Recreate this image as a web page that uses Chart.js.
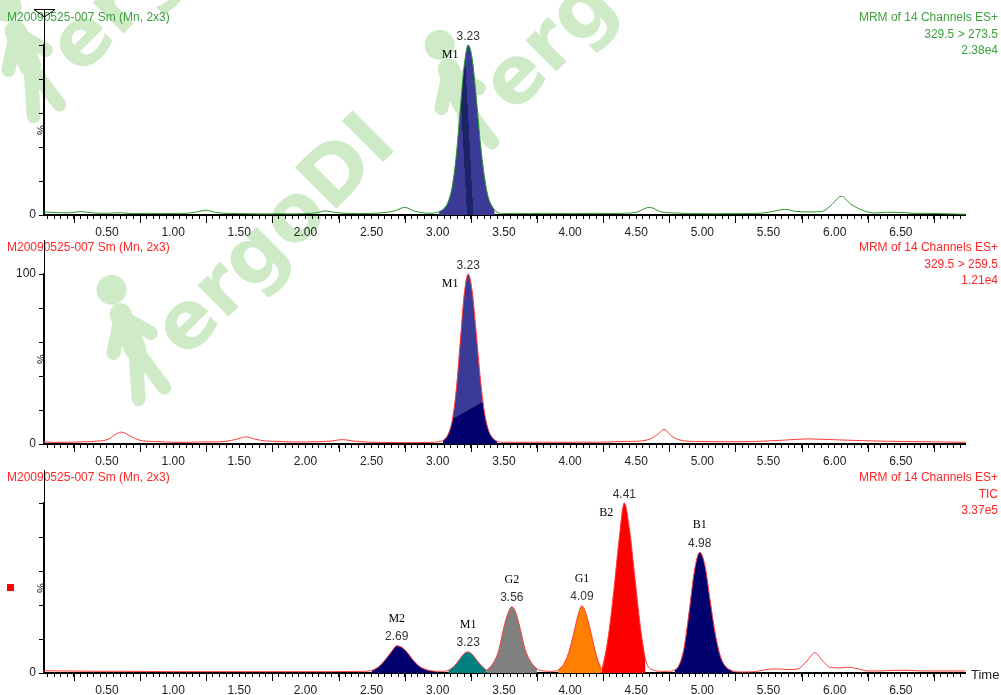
<!DOCTYPE html>
<html lang="en">
<head>
<meta charset="UTF-8">
<title>MRM chromatograms</title>
<script src="https://cdn.jsdelivr.net/npm/chart.js"></script>
<style>
  body { margin: 0; background: #fff; overflow: hidden; }
  .panel { position: absolute; left: 0; width: 1001px; }
</style>
</head>
<body>
<div class="panel" style="top:0;height:240px"><canvas id="c1"></canvas></div>
<div class="panel" style="top:240px;height:230px"><canvas id="c2"></canvas></div>
<div class="panel" style="top:470px;height:225px"><canvas id="c3"></canvas></div>
<script>
// ---- values (time in min, intensity in %) ----
const sampleName = 'M20090525-007 Sm (Mn, 2x3)';
const ch1Header = ['MRM of 14 Channels ES+', '329.5 > 273.5', '2.38e4'];
const ch2Header = ['MRM of 14 Channels ES+', '329.5 > 259.5', '1.21e4'];
const ticHeader = ['MRM of 14 Channels ES+', 'TIC', '3.37e5'];
const xTickLabels = ['0.50', '1.00', '1.50', '2.00', '2.50', '3.00', '3.50', '4.00', '4.50', '5.00', '5.50', '6.00', '6.50'];

const ch1Time = [0.02, 0.10, 0.20, 0.30, 0.40, 0.50, 0.60, 0.70, 0.80, 0.90,
  1.00, 1.10, 1.18, 1.25, 1.32, 1.40, 1.50, 1.60, 1.70, 1.80, 1.90,
  2.00, 2.08, 2.15, 2.22, 2.30, 2.40, 2.50, 2.60, 2.68, 2.75, 2.82, 2.90, 2.95,
  3.01, 3.05, 3.08, 3.11, 3.14, 3.17, 3.20, 3.23, 3.26, 3.29, 3.32, 3.35, 3.38, 3.43, 3.50, 3.60, 3.70, 3.80, 3.90,
  4.00, 4.10, 4.20, 4.30, 4.40, 4.50, 4.60, 4.70, 4.80, 4.90,
  5.00, 5.10, 5.20, 5.30, 5.40, 5.50, 5.56, 5.63, 5.70, 5.80, 5.90, 5.97,
  6.05, 6.12, 6.18, 6.25, 6.30, 6.40, 6.50, 6.60, 6.70, 6.80, 6.90, 6.99];
const ch1Pct = [1.8, 1.5, 1.2, 2.0, 1.2, 1.0, 1.3, 0.8, 1.0, 0.8,
  0.9, 1.0, 1.8, 2.8, 1.5, 1.0, 0.8, 0.7, 0.6, 0.7, 0.6,
  0.8, 1.2, 2.4, 1.5, 1.0, 0.8, 1.0, 1.4, 2.6, 4.5, 2.4, 1.2, 1.0,
  2.0, 4.0, 8.0, 17, 35, 62, 88, 100, 92, 70, 44, 24, 11, 3.0, 0.8, 1.0, 0.8, 1.0, 0.9,
  0.8, 0.9, 1.0, 0.9, 1.0, 1.6, 4.5, 1.6, 1.2, 0.8,
  0.8, 0.7, 0.8, 0.8, 0.9, 1.6, 2.6, 3.3, 2.2, 1.8, 2.0, 5.5,
  11, 6.5, 3.8, 1.8, 1.2, 1.6, 1.5, 1.0, 1.0, 0.8, 0.6, 0.4];
const ch1PeakNames = ['M1'];
const ch1PeakRT = ['3.23'];
const ch1PeakStart = [3.01];
const ch1PeakEnd = [3.43];

const ch2Time = [0.02, 0.10, 0.20, 0.30, 0.40, 0.50, 0.61, 0.68, 0.75, 0.85,
  0.95, 1.00, 1.10, 1.20, 1.30, 1.40, 1.48, 1.55, 1.62, 1.70,
  1.80, 1.90, 2.00, 2.10, 2.20, 2.28, 2.36, 2.45, 2.55, 2.70,
  2.85, 2.95, 3.04, 3.08, 3.11, 3.14, 3.17, 3.20, 3.23, 3.26,
  3.29, 3.32, 3.35, 3.38, 3.41, 3.45, 3.50, 3.60, 3.70, 3.80,
  3.90, 4.00, 4.10, 4.20, 4.30, 4.40, 4.50, 4.60, 4.66, 4.71,
  4.77, 4.85, 4.95, 5.05, 5.20, 5.40, 5.60, 5.80, 6.00, 6.20,
  6.40, 6.60, 6.80, 6.99];
const ch2Pct = [1.2, 1.0, 1.0, 1.2, 1.6, 2.5, 7.0, 4.5, 2.2, 1.5,
  1.2, 1.0, 1.0, 1.2, 1.2, 1.6, 2.8, 4.2, 2.8, 1.8,
  1.5, 1.2, 1.2, 1.4, 1.8, 2.6, 1.8, 1.2, 1.0, 0.8,
  0.8, 1.0, 2.0, 6.0, 14, 32, 60, 88, 100, 90,
  66, 40, 20, 9.0, 4.0, 1.5, 1.0, 1.0, 1.0, 1.1,
  1.0, 1.0, 1.1, 1.0, 1.2, 1.5, 1.6, 2.8, 5.5, 8.5,
  4.5, 2.0, 1.5, 1.4, 1.3, 1.5, 2.2, 3.0, 2.5, 2.0,
  1.6, 1.4, 1.2, 1.0];
const ch2PeakNames = ['M1'];
const ch2PeakRT = ['3.23'];
const ch2PeakStart = [3.04];
const ch2PeakEnd = [3.45];

const ticTime = [0.02, 0.20, 0.40, 0.60, 0.80, 1.00, 1.30, 1.60, 1.90, 2.20,
  2.40, 2.50, 2.55, 2.60, 2.65, 2.69, 2.73, 2.77, 2.81, 2.86,
  2.92, 2.99, 3.04, 3.08, 3.13, 3.17, 3.20, 3.23, 3.26, 3.30,
  3.34, 3.37, 3.42, 3.46, 3.50, 3.53, 3.56, 3.59, 3.62, 3.66,
  3.70, 3.75, 3.80, 3.86, 3.91, 3.95, 3.99, 4.03, 4.06, 4.09,
  4.12, 4.16, 4.20, 4.24, 4.29, 4.33, 4.37, 4.41, 4.45, 4.49,
  4.53, 4.57, 4.62, 4.70, 4.75, 4.79, 4.82, 4.86, 4.90, 4.94,
  4.98, 5.02, 5.06, 5.10, 5.14, 5.18, 5.23, 5.30, 5.40, 5.48,
  5.56, 5.65, 5.72, 5.79, 5.85, 5.91, 5.97, 6.04, 6.10, 6.18,
  6.25, 6.35, 6.45, 6.55, 6.65, 6.80, 6.99];
const ticPct = [1.3, 1.2, 1.0, 1.0, 0.9, 0.8, 0.8, 0.8, 0.8, 0.8,
  0.9, 1.5, 3.5, 7.5, 12.5, 16, 15, 12, 8.0, 4.0,
  1.8, 1.0, 1.0, 1.5, 4.5, 8.5, 11.5, 12.4, 11, 7.0,
  3.5, 1.8, 6.0, 13, 27, 35, 39, 35.5, 27, 14,
  7.0, 2.5, 1.2, 1.0, 1.8, 5.0, 12, 24, 34, 39.5,
  35, 23, 10, 2.5, 22, 48, 78, 100, 84, 56,
  28, 8.0, 2.0, 1.0, 1.0, 1.8, 4.0, 14, 36, 60,
  71, 63, 42, 22, 9.0, 3.5, 1.2, 0.6, 0.8, 2.0,
  2.4, 2.0, 2.4, 7.0, 12, 7.0, 3.2, 3.0, 3.4, 2.4,
  1.2, 1.2, 1.6, 1.6, 1.2, 1.2, 1.2];
const ticPeakNames = ['M2', 'M1', 'G2', 'G1', 'B2', 'B1'];
const ticPeakRT = ['2.69', '3.23', '3.56', '4.09', '4.41', '4.98'];
const ticPeakStart = [2.50, 3.08, 3.37, 3.91, 4.24, 4.79];
const ticPeakEnd = [2.99, 3.37, 3.75, 4.24, 4.57, 5.23];

// ---- styles ----
const greenLine = '#2a942a', greenText = '#3d9f3d';
const redLine = '#ff3a3a', redText = '#ff2626';
const navy = '#00006f', lightNavy = '#3b3b97', darkStripe = '#1c2468';
const ticFills = [navy, '#008080', '#808080', '#ff8000', '#ff0000', navy];
const wmColor = 'rgb(206,234,199)';

Chart.defaults.font.family = '"Liberation Sans", Arial, sans-serif';
Chart.defaults.font.size = 12;
Chart.defaults.color = '#222';

// hard-edged gradient band across a peak (the watermark shows through it)
function bandFill(c, t, v, dirX, dirY, stops) {
  const ch = c.chart;
  if (!ch.chartArea) return navy;
  const cx = ch.scales.x.getPixelForValue(t), cy = ch.scales.y.getPixelForValue(v);
  const L = Math.hypot(dirX, dirY), nx = -dirY / L, ny = dirX / L;
  const g = ch.ctx.createLinearGradient(cx - nx * 20, cy - ny * 20, cx + nx * 20, cy + ny * 20);
  stops.forEach(([o, col]) => g.addColorStop(o, col));
  return g;
}
const ch1Fill = c => bandFill(c, 3.20, 66, 5, 94,
  [[0, lightNavy], [0.42, lightNavy], [0.42, darkStripe], [0.58, darkStripe], [0.58, lightNavy], [1, lightNavy]]);
const ch2Fill = c => bandFill(c, 3.21, 19, 32, -18,
  [[0, lightNavy], [0.5, lightNavy], [0.5, navy], [1, navy]]);

const panels = [
  { id: 'c1', top: 0, padTop: 45, xH: 25, time: ch1Time, pct: ch1Pct, header: ch1Header,
    line: greenLine, text: greenText, names: ch1PeakNames, rt: ch1PeakRT, start: ch1PeakStart,
    end: ch1PeakEnd, fills: [ch1Fill], yLabels: ['0'], titleY: 18, extTop: 10, triangle: true },
  { id: 'c2', top: 240, padTop: 34, xH: 26, time: ch2Time, pct: ch2Pct, header: ch2Header,
    line: redLine, text: redText, names: ch2PeakNames, rt: ch2PeakRT, start: ch2PeakStart,
    end: ch2PeakEnd, fills: [ch2Fill], yLabels: ['0', '100'], titleY: 8, extTop: 0 },
  { id: 'c3', top: 470, padTop: 33, xH: 22, time: ticTime, pct: ticPct, header: ticHeader,
    line: redLine, text: redText, names: ticPeakNames, rt: ticPeakRT, start: ticPeakStart,
    end: ticPeakEnd, fills: ticFills, yLabels: ['0'], titleY: 8, extTop: 0, tic: true }
];

// ---- watermark (page coordinates, each canvas shows its own slice) ----
const wmCopies = [[150, 395], [478, 150], [45, 112]];
function drawWatermark(ctx) {
  ctx.fillStyle = wmColor;
  ctx.strokeStyle = wmColor;
  ctx.lineCap = 'round';
  ctx.lineJoin = 'round';
  wmCopies.forEach(([px, py]) => {
    ctx.save();
    ctx.translate(px, py);
    ctx.save();
    ctx.rotate(-0.35);
    ctx.beginPath(); ctx.arc(0, -112, 15, 0, Math.PI * 2); ctx.fill();
    ctx.lineWidth = 22;
    ctx.beginPath(); ctx.moveTo(0, -86); ctx.lineTo(2, -48); ctx.stroke();
    ctx.lineWidth = 14;
    ctx.beginPath();
    ctx.moveTo(2, -48); ctx.lineTo(-12, 0);
    ctx.moveTo(2, -48); ctx.lineTo(16, -2);
    ctx.moveTo(0, -84); ctx.lineTo(-20, -52);
    ctx.moveTo(0, -84); ctx.lineTo(22, -58);
    ctx.stroke();
    ctx.restore();
    ctx.rotate(-0.785);
    ctx.font = 'bold 80px "DejaVu Sans"';
    ctx.textBaseline = 'alphabetic';
    ctx.textAlign = 'left';
    ctx.fillText('ergoDI', 50, 0);
    ctx.restore();
  });
}

function makeDeco(p) {
  return {
    id: 'deco' + p.id,
    beforeDraw(chart) {
      const ctx = chart.ctx;
      ctx.save();
      ctx.translate(0, -p.top);
      drawWatermark(ctx);
      ctx.restore();
    },
    afterDraw(chart) {
      const ctx = chart.ctx, area = chart.chartArea;
      const xs = chart.scales.x, ys = chart.scales.y;
      ctx.save();
      // headers
      ctx.font = '12px "Liberation Sans"';
      ctx.fillStyle = p.text;
      ctx.textBaseline = 'middle';
      ctx.textAlign = 'left';
      ctx.fillText(sampleName, 7, p.titleY);
      ctx.textAlign = 'right';
      p.header.forEach((s, i) => ctx.fillText(s, 998, p.titleY + i * 16.5));
      // y axis line running up above the plot
      ctx.strokeStyle = '#000';
      ctx.lineWidth = 1;
      ctx.beginPath();
      ctx.moveTo(area.left + 0.5, p.extTop);
      ctx.lineTo(area.left + 0.5, area.top);
      ctx.stroke();
      if (p.triangle) {
        ctx.beginPath();
        ctx.moveTo(34, p.extTop - 0.5);
        ctx.lineTo(55, p.extTop - 0.5);
        ctx.lineTo(area.left + 0.5, p.extTop + 7);
        ctx.closePath();
        ctx.stroke();
      }
      // longer ticks on the time axis at the quarter marks
      ctx.beginPath();
      for (let q = 0.25; q < 7; q += 0.5) {
        const x = Math.round(xs.getPixelForValue(q)) + 0.5;
        ctx.moveTo(x, area.bottom);
        ctx.lineTo(x, area.bottom + 8);
      }
      ctx.stroke();
      // % symbol on the y axis
      ctx.save();
      ctx.translate(area.left - 2, (area.top + area.bottom) / 2);
      ctx.rotate(-Math.PI / 2);
      ctx.fillStyle = '#000';
      ctx.textAlign = 'center';
      ctx.font = '11px "Liberation Sans"';
      ctx.fillText('%', 0, 0);
      ctx.restore();
      // peak labels
      p.names.forEach((name, i) => {
        let top = 0;
        p.time.forEach((t, k) => { if (t >= p.start[i] && t <= p.end[i]) top = Math.max(top, p.pct[k]); });
        const cx = xs.getPixelForValue(parseFloat(p.rt[i]));
        const high = top > 90;
        const ry = ys.getPixelForValue(top) - (high ? 8 : 9);
        ctx.textAlign = 'center';
        ctx.fillStyle = '#333';
        ctx.font = '12px "Liberation Sans"';
        ctx.fillText(p.rt[i], cx, ry);
        ctx.fillStyle = '#000';
        ctx.font = '12px "Liberation Serif"';
        if (high) ctx.fillText(name, cx - 18, ry + 18);
        else ctx.fillText(name, cx, ry - 18);
      });
      if (p.tic) {
        ctx.fillStyle = '#ff0000';
        ctx.fillRect(7, 114, 7, 7);
        ctx.fillStyle = '#222';
        ctx.textAlign = 'left';
        ctx.font = '13px "Liberation Sans"';
        ctx.fillText('Time', 971, area.bottom + 2);
      }
      ctx.restore();
    }
  };
}

panels.forEach(p => {
  const trace = p.time.map((t, k) => ({ x: t, y: p.pct[k] }));
  const datasets = [{
    data: trace, borderColor: p.line, borderWidth: 1, pointRadius: 0,
    cubicInterpolationMode: 'monotone', fill: false, order: 0, clip: 3
  }];
  p.names.forEach((n, i) => {
    datasets.push({
      data: trace.filter(d => d.x >= p.start[i] - 1e-9 && d.x <= p.end[i] + 1e-9),
      backgroundColor: p.fills[i], borderWidth: 0, pointRadius: 0,
      cubicInterpolationMode: 'monotone', fill: 'origin', order: 1, clip: 3
    });
  });
  new Chart(document.getElementById(p.id), {
    type: 'line',
    data: { datasets },
    options: {
      responsive: true,
      maintainAspectRatio: false,
      animation: false,
      events: [],
      layout: { padding: { top: p.padTop, right: 36, left: 0, bottom: 0 } },
      plugins: { legend: { display: false }, tooltip: { enabled: false } },
      scales: {
        x: {
          type: 'linear', min: 0.024, max: 6.985,
          afterFit: s => { s.height = p.xH; },
          afterBuildTicks: s => {
            const v = [];
            for (let k = 1; k <= 139; k++) v.push({ value: k * 0.05 });
            s.ticks = v;
          },
          ticks: {
            autoSkip: false, maxRotation: 0, padding: 6, color: '#222',
            callback: v => { const s = v.toFixed(2); return xTickLabels.includes(s) ? s : ''; }
          },
          grid: { drawOnChartArea: false, tickLength: 4, tickColor: '#000' },
          border: { color: '#000', width: 2 }
        },
        y: {
          min: 0, max: 100,
          afterFit: s => { s.width = 44; },
          afterBuildTicks: s => {
            const v = [];
            for (let k = 0; k <= 10; k++) v.push({ value: k * 10 });
            s.ticks = v;
          },
          ticks: { padding: 3, color: '#222', callback: v => p.yLabels.includes(String(v)) ? String(v) : '' },
          grid: { drawOnChartArea: false, tickLength: 5, tickColor: '#000' },
          border: { color: '#000', width: 2 }
        }
      }
    },
    plugins: [makeDeco(p)]
  });
});
</script>
</body>
</html>
